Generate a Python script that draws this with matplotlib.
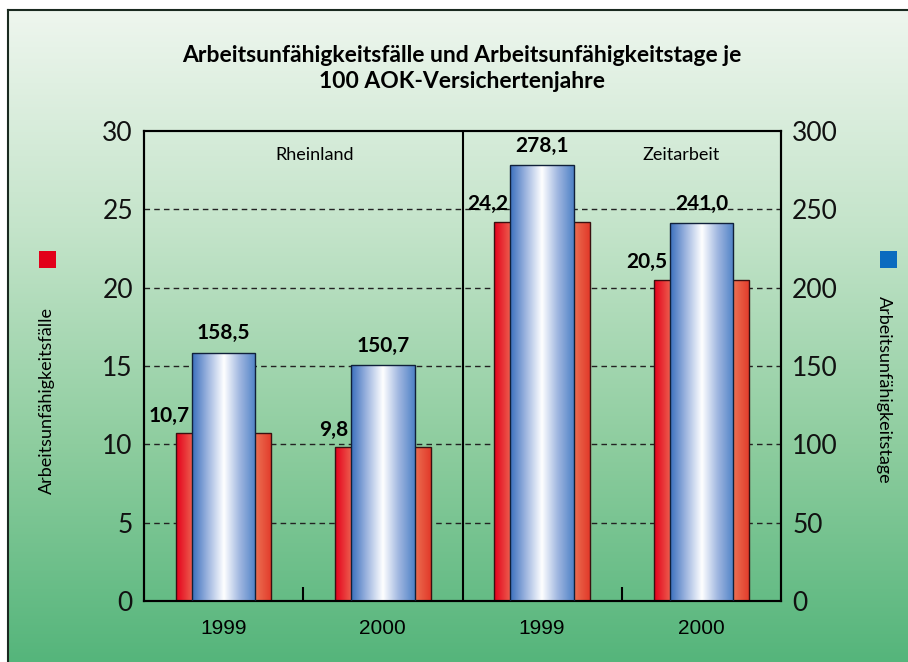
import numpy as np
import matplotlib.pyplot as plt
from matplotlib.colors import LinearSegmentedColormap

# data
groups = ['Rheinland', 'Zeitarbeit']
years = ['1999', '2000', '1999', '2000']
faelle = [10.7, 9.8, 24.2, 20.5]
tage = [158.5, 150.7, 278.1, 241.0]
faelle_txt = ['10,7', '9,8', '24,2', '20,5']
tage_txt = ['158,5', '150,7', '278,1', '241,0']

W, H = 908, 662
fig = plt.figure(figsize=(W / 100, H / 100), dpi=100)

# background with green gradient and frame on left/top
bg = fig.add_axes([8 / W, 0, 1 - 8 / W, 1 - 10 / H], zorder=-10)
bg_cmap = LinearSegmentedColormap.from_list('bg', ['#eef6ee', '#c4e4ca', '#8ecd9f', '#55b57b'])
bg.imshow(np.linspace(0, 1, 256).reshape(-1, 1), cmap=bg_cmap, aspect='auto',
          extent=[0, 1, 0, 1], interpolation='bicubic')
bg.set_xlim(0, 1)
bg.set_ylim(0, 1)
bg.set_xticks([])
bg.set_yticks([])
for s in ['right', 'bottom']:
    bg.spines[s].set_visible(False)
for s in ['left', 'top']:
    bg.spines[s].set_linewidth(1.5)
    bg.spines[s].set_color('#1a2a20')

red_cmap = LinearSegmentedColormap.from_list('r', ['#e4001b', '#f08a66', '#f29070', '#f08a66', '#e23a2a'])
blue_cmap = LinearSegmentedColormap.from_list('b', ['#3a6fbd', '#9fb6e0', '#ffffff', '#9fb6e0', '#4f82c6'])


def shade(ax, bars, cmap):
    grad = np.linspace(0, 1, 256).reshape(1, -1)
    for b in bars:
        x, y, w, h = b.get_x(), b.get_y(), b.get_width(), b.get_height()
        im = ax.imshow(grad, cmap=cmap, extent=[x, x + w, y, y + h], aspect='auto',
                       interpolation='bicubic', zorder=2.5)
        im.set_clip_path(b)


ax1 = fig.add_axes([144 / W, 1 - 601 / H, 637 / W, 470 / H])
ax1.patch.set_visible(False)
ax2 = ax1.twinx()
ax2.patch.set_visible(False)

x = np.arange(len(years)) + 0.5

r = ax1.bar(x, faelle, width=0.6, facecolor='none', edgecolor='#3a1010', linewidth=1, zorder=3)
shade(ax1, r, red_cmap)
b = ax2.bar(x, tage, width=0.4, facecolor='none', edgecolor='#10203a', linewidth=1, zorder=3)
shade(ax2, b, blue_cmap)

ax1.set_xlim(0, 4)
ax1.set_ylim(0, 30)
ax2.set_ylim(0, 300)

for yv in range(5, 30, 5):
    ax1.axhline(yv, color='#222222', lw=1, ls=(0, (4, 3)), zorder=1)
ax1.axvline(2, color='black', lw=1.5, zorder=4)

tick_font = dict(family='Lato', weight='normal', size=19)
ax1.set_yticks(range(0, 31, 5))
ax1.set_yticklabels([str(v) for v in range(0, 31, 5)], fontdict=tick_font)
ax2.set_yticks(range(0, 301, 50))
ax2.set_yticklabels([str(v) for v in range(0, 301, 50)], fontdict=tick_font)
ax1.tick_params(axis='y', length=0, pad=8, labelcolor='#111111')
ax2.tick_params(axis='y', length=0, pad=8, labelcolor='#111111')

ax1.set_xticks(x)
ax1.set_xticklabels(years, family='Liberation Sans', size=15)
ax1.tick_params(axis='x', length=0, pad=13)
ax1.set_xticks([1, 3], minor=True)
ax1.tick_params(axis='x', which='minor', direction='in', length=10, width=1.5)

for ax in (ax1, ax2):
    for s in ax.spines.values():
        s.set_linewidth(1.5)
        s.set_color('black')

# value labels
for xi, v, t in zip(x, faelle, faelle_txt):
    ax1.text(xi - 0.215, v + 0.5, t, ha='right', va='bottom', family='Lato',
             weight='bold', size=15, zorder=6)
for xi, v, t in zip(x, tage, tage_txt):
    ax2.text(xi, v + 6, t, ha='center', va='bottom', family='Lato',
             weight='bold', size=15, zorder=6)

ax1.text(1.07, 28.45, groups[0], ha='center', va='center', family='Lato', size=13)
ax1.text(3.37, 28.45, groups[1], ha='center', va='center', family='Lato', size=13)

fig.text(462 / W, 1 - 55 / H, 'Arbeitsunfähigkeitsfälle und Arbeitsunfähigkeitstage je',
         ha='center', va='center', family='Lato', weight='bold', size=16.5)
fig.text(462 / W, 1 - 82 / H, '100 AOK-Versichertenjahre',
         ha='center', va='center', family='Lato', weight='bold', size=16.5)

# axis labels with colour squares
fig.text(47 / W, 1 - 400 / H, 'Arbeitsunfähigkeitsfälle', rotation=90, ha='center',
         va='center', family='Lato', size=13)
fig.text(884 / W, 1 - 390 / H, 'Arbeitsunfähigkeitstage', rotation=-90, ha='center',
         va='center', family='Lato', size=13)
fig.patches.append(plt.Rectangle((39 / W, 1 - 268 / H), 17 / W, 17 / H,
                                 transform=fig.transFigure, facecolor='#e2001a',
                                 edgecolor='none', figure=fig))
fig.patches.append(plt.Rectangle((880 / W, 1 - 268 / H), 17 / W, 17 / H,
                                 transform=fig.transFigure, facecolor='#0a6bbf',
                                 edgecolor='none', figure=fig))

fig.savefig('out.png', dpi=100)
